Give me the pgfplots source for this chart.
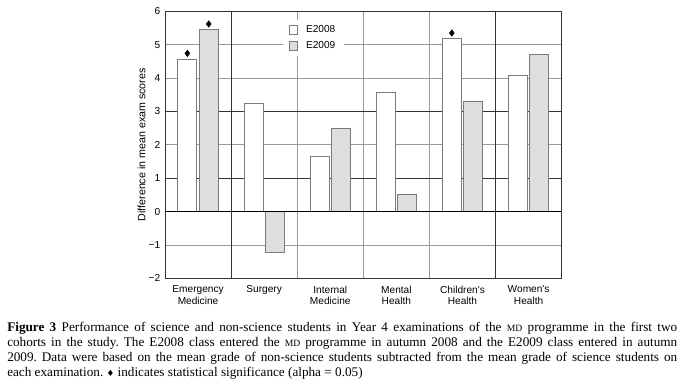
\documentclass[border=0pt]{standalone}
\usepackage{fontspec}
\setmainfont{Liberation Serif}
\newfontfamily\axfont{Liberation Sans}
\newfontfamily\djv{DejaVu Sans}
\usepackage{pgfplots}
\pgfplotsset{compat=1.18}
\definecolor{bargray}{HTML}{DEDEDE}
\definecolor{edgegray}{HTML}{7A7A7A}
\definecolor{gridgray}{HTML}{9A9A9A}
\definecolor{darkline}{HTML}{333333}
\begin{document}
\frenchspacing
\begin{tikzpicture}[x=1pt,y=1pt]
\path[use as bounding box] (0,0) rectangle (512.25,288);
\begin{axis}[
  at={(123.75pt,79.275pt)}, anchor=south west,
  scale only axis, width=297.5pt, height=200.25pt,
  xmin=-0.5, xmax=5.5, ymin=-2, ymax=6,
  xtick={0,1,2,3,4,5},
  xticklabels={Emergency\\Medicine, Surgery, Internal\\Medicine, Mental\\Health, Children's\\Health, Women's\\Health},
  xticklabel style={align=center, font=\axfont\fontsize{7.6}{8.8}\selectfont, anchor=north, yshift=-2pt},
  ytick={-2,-1,0,1,2,3,4,5,6},
  yticklabels={−2,−1,0,1,2,3,4,5,6},
  yticklabel style={font=\axfont\fontsize{7.6}{9}\selectfont},
  major tick length=0pt, minor tick length=0pt,
  minor xtick={0.5,1.5,2.5,3.5,4.5},
  xminorgrids, ymajorgrids,
  major grid style={gridgray, line width=0.6pt},
  minor grid style={gridgray, line width=0.6pt},
  extra x ticks={0.5,4.5}, extra x tick labels={},
  extra x tick style={grid=major, major grid style={darkline, line width=0.6pt}},
  extra y ticks={1,3}, extra y tick labels={},
  extra y tick style={grid=major, major grid style={darkline, line width=0.6pt}},
  axis line style={darkline, line width=0.6pt},
  ylabel={Difference in mean exam scores},
  ylabel style={font=\axfont\fontsize{8}{9}\selectfont, at={(axis description cs:-0.0588,0.5)}, anchor=center},
  legend style={at={(axis description cs:0.2975,0.9674)}, anchor=north west, draw=none, fill=white,
    font=\axfont\fontsize{7.6}{9}\selectfont, inner xsep=4.5pt, inner ysep=2pt, row sep=1pt, column sep=4pt},
  legend cell align=left,
]
\addplot[ybar, bar width=14.25pt, bar shift=-8pt, fill=white, draw=edgegray, line width=0.7pt,
  legend image code/.code={\draw[fill=white, draw=edgegray, line width=0.6pt] (0pt,-3.3pt) rectangle (6pt,3.3pt);}]
  coordinates {(0,4.56) (1,3.23) (2,1.66) (3,3.56) (4,5.19) (5,4.07)};
\addlegendentry{E2008}
\addplot[ybar, bar width=14.25pt, bar shift=8pt, fill=bargray, draw=edgegray, line width=0.7pt,
  legend image code/.code={\draw[fill=bargray, draw=edgegray, line width=0.6pt] (0pt,-3.3pt) rectangle (6pt,3.3pt);}]
  coordinates {(0,5.46) (1,-1.23) (2,2.48) (3,0.52) (4,3.29) (5,4.72)};
\addlegendentry{E2009}
\addplot[only marks, mark=diamond*, mark size=2.4pt, black, forget plot]
  coordinates {(-0.1613,4.74) (0.1613,5.62) (3.8387,5.35)};
\draw[black, line width=0.9pt] (axis cs:-0.5,0) -- (axis cs:5.5,0);
\end{axis}
\node[anchor=north west, inner sep=0pt, text width=502.5pt, align=justify,
  font=\fontsize{9.9}{11.25}\selectfont] at (5.25,46.8)
  {\textbf{Figure 3} Performance of science and non-science students in Year 4 examinations of the {\fontsize{7.2}{11.25}\selectfont MD} programme in the first two\linebreak
  cohorts in the study. The E2008 class entered the {\fontsize{7.2}{11.25}\selectfont MD} programme in autumn 2008 and the E2009 class entered in autumn\linebreak
  2009. Data were based on the mean grade of non-science students subtracted from the mean grade of science students on\linebreak
  each examination. {\djv\fontsize{6.5}{11.25}\selectfont ♦} indicates statistical significance (alpha = 0.05)};
\end{tikzpicture}
\end{document}
